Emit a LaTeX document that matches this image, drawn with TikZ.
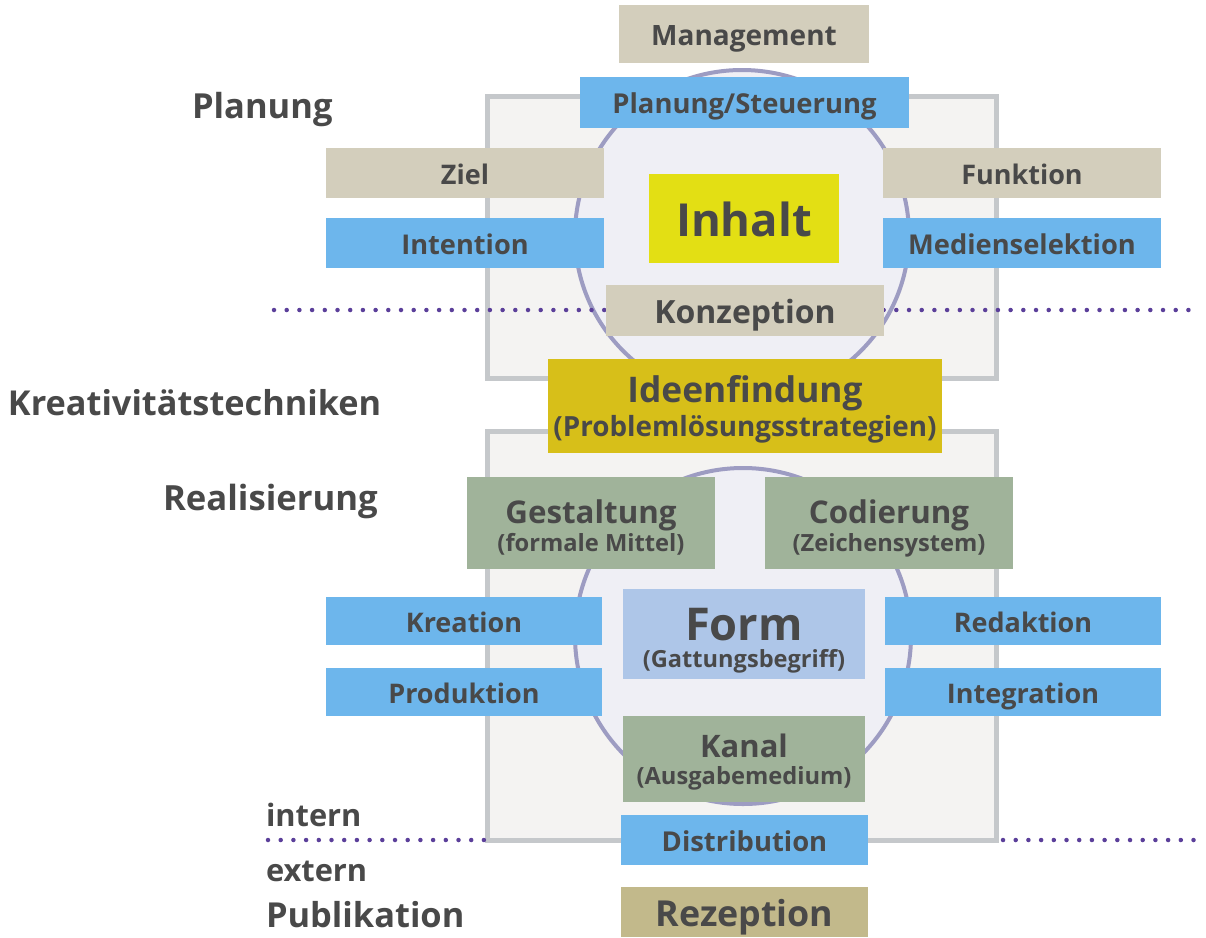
\documentclass[tikz,border=0pt]{standalone}
\usepackage{fontspec}
\setmainfont{Open Sans}
\usetikzlibrary{calc}
\definecolor{txt}{HTML}{494949}
\definecolor{tan}{HTML}{D3CEBC}
\definecolor{blu}{HTML}{6DB6EC}
\definecolor{yel}{HTML}{E3DF14}
\definecolor{mus}{HTML}{D7BF19}
\definecolor{grn}{HTML}{A0B39A}
\definecolor{lbl}{HTML}{AEC6E8}
\definecolor{rez}{HTML}{C2B98B}
\definecolor{framec}{HTML}{C5C8CB}
\definecolor{framefill}{HTML}{F4F3F2}
\definecolor{ellc}{HTML}{9D9CC2}
\definecolor{ellfill}{HTML}{EFEFF5}
\definecolor{dotc}{HTML}{5B3F9A}
\newcommand\fs[1]{\fontsize{#1}{#1}\selectfont}
% \bx{name}{x1}{y1}{x2}{y2}{colour}{size}{text}
\newcommand\bx[8]{\node[boxst, fill=#6, minimum width={#4-#2}, minimum height={#5-#3},
  font=\bfseries\fs{#7}, text height={0.714*#7+3}, text depth=0pt] (#1) at ({(#2+#4)/2},{(#3+#5)/2}) {#8};}
\newcommand\ebx[6]{\node[boxst, fill=#6, minimum width={#4-#2}, minimum height={#5-#3}] (#1) at ({(#2+#4)/2},{(#3+#5)/2}) {};}
\tikzset{
  boxst/.style={draw=none, inner sep=0pt, outer sep=0pt, text=txt},
  tline/.style={inner sep=0pt, outer sep=0pt, text=txt, anchor=base},
  side/.style={inner sep=0pt, outer sep=0pt, text=txt, anchor=base west, font=\bfseries\fs{#1}},
  frm/.style={draw=framec, line width=5pt, fill=framefill},
  ell/.style={draw=ellc, line width=4pt, fill=ellfill},
  dots/.style={draw=dotc, line width=4.5pt, line cap=round, dash pattern=on 0pt off 12.7pt}
}
\begin{document}
\begin{tikzpicture}[x=1pt,y=-1pt]
\useasboundingbox[fill=white] (0,0) rectangle (1206,937);
% frames
\draw[frm] (487,96) rectangle (996,378);
\draw[frm] (487,431) rectangle (996,840);
% ellipses
\draw[ell] (742,235) ellipse [x radius=167, y radius=165];
\draw[ell] (743,636) ellipse [x radius=168, y radius=168];
% dotted separators
\coordinate (d1a) at (274,310); \coordinate (d1b) at (1200,310);
\draw[dots] (d1a) -- (d1b);
\coordinate (d2a) at (268,840); \coordinate (d2b) at (485,840);
\coordinate (d2c) at (1003,840); \coordinate (d2d) at (1195,840);
\draw[dots] (d2a) -- (d2b);
\draw[dots] (d2c) -- (d2d);
% upper part
\bx{mgmt}{619}{5}{869}{63}{tan}{28}{Management}
\bx{plan}{580}{77}{909}{128}{blu}{27.4}{Planung/Steuerung}
\bx{ziel}{326}{148}{604}{198}{tan}{27}{Ziel}
\bx{intent}{326}{218}{604}{268}{blu}{27.2}{Intention}
\bx{funk}{883}{148}{1161}{198}{tan}{27}{Funktion}
\bx{medsel}{883}{218}{1161}{268}{blu}{27.3}{Medienselektion}
\bx{inhalt}{649}{174}{839}{263}{yel}{45.5}{Inhalt}
\bx{konz}{606}{285}{884}{336}{tan}{32}{Konzeption}
% Ideenfindung
\ebx{ide}{548}{359}{942}{453}{mus}
\node[tline, font=\bfseries\fs{35.3}] (ide1) at (745,402) {Ideenfindung};
\node[tline, font=\bfseries\fs{27.8}] (ide2) at (745,436) {(Problemlösungsstrategien)};
% lower part
\ebx{gest}{467}{477}{715}{569}{grn}
\node[tline, font=\bfseries\fs{31.3}] (gest1) at (591,523) {Gestaltung};
\node[tline, font=\bfseries\fs{23.7}] (gest2) at (591,551) {(formale Mittel)};
\ebx{cod}{765}{477}{1013}{569}{grn}
\node[tline, font=\bfseries\fs{31.3}] (cod1) at (889,523) {Codierung};
\node[tline, font=\bfseries\fs{23.7}] (cod2) at (889,551) {(Zeichensystem)};
\ebx{form}{623}{589}{865}{679}{lbl}
\node[tline, font=\bfseries\fs{45.2}] (form1) at (744,640) {Form};
\node[tline, font=\bfseries\fs{23.6}] (form2) at (744,667) {(Gattungsbegriff)};
\bx{krea}{326}{597}{602}{645}{blu}{27}{Kreation}
\bx{prod}{326}{668}{602}{716}{blu}{27}{Produktion}
\bx{red}{885}{597}{1161}{645}{blu}{27}{Redaktion}
\bx{integ}{885}{668}{1161}{716}{blu}{27}{Integration}
\ebx{kanal}{623}{716}{865}{802}{grn}
\node[tline, font=\bfseries\fs{31}] (kanal1) at (744,757) {Kanal};
\node[tline, font=\bfseries\fs{23.7}] (kanal2) at (744,784) {(Ausgabemedium)};
\bx{distr}{621}{815}{868}{865}{blu}{27.4}{Distribution}
\bx{rezep}{621}{887}{868}{937}{rez}{35.8}{Rezeption}
% side labels
\node[side=34.5] (lplan) at (192,118) {Planung};
\node[side=34.3] (lkrea) at (8,415) {Kreativitätstechniken};
\node[side=34.7] (lreal) at (163,510) {Realisierung};
\node[side=30.8] (lint) at (266,826) {intern};
\node[side=30.8] (lext) at (266,881) {extern};
\node[side=34.4] (lpub) at (266,927) {Publikation};
\end{tikzpicture}
\end{document}
